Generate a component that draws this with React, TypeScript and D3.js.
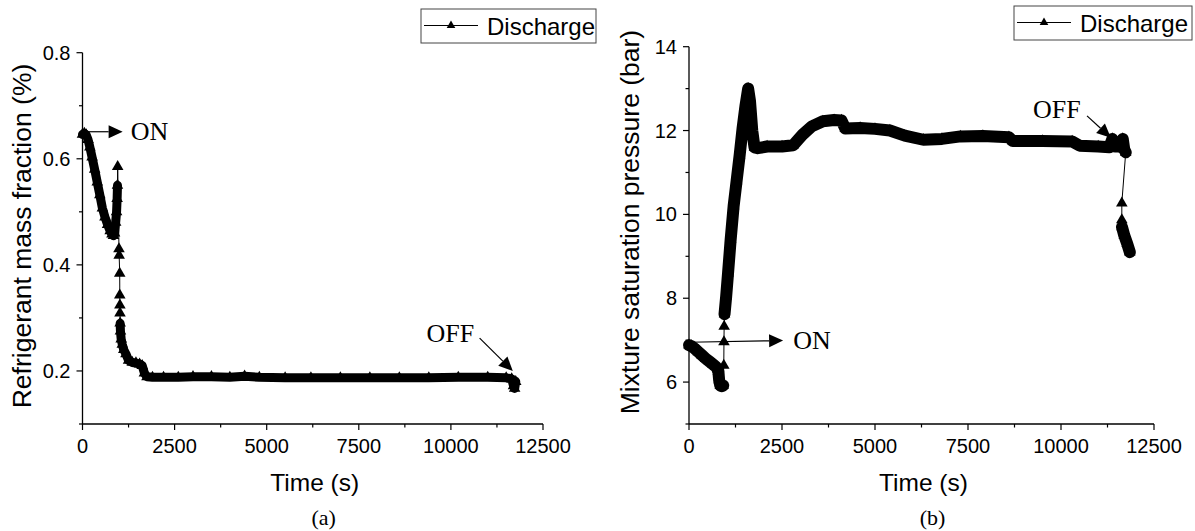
import * as d3 from "d3";

const W = 1195;
const H = 531;
const SANS = "'Liberation Sans', Arial, sans-serif";
const SERIF = "'Liberation Serif', 'Times New Roman', serif";

// ── shared axis ticks ─────────────────────────────────────
const timeTicks = [0, 2500, 5000, 7500, 10000, 12500];
const timeMinor = [1250, 3750, 6250, 8750, 11250];
const fracTicks = [0.2, 0.4, 0.6, 0.8];
const fracMinor = [0.1, 0.3, 0.5, 0.7];
const pressTicks = [6, 8, 10, 12, 14];
const pressMinor = [5, 7, 9, 11, 13];

// ── (a) refrigerant mass fraction, discharge ──────────────
const aStartTime = [0, 50, 100, 150, 200, 260, 330, 400, 470, 540, 610, 680, 750, 800, 840];
const aStartFrac = [0.646, 0.648, 0.645, 0.636, 0.622, 0.603, 0.58, 0.556, 0.532, 0.507, 0.49, 0.476, 0.464, 0.458, 0.455];
const aBlobTime = [870, 900, 925, 940, 950];
const aBlobFrac = [0.46, 0.48, 0.5, 0.525, 0.55];
const aDropTime = [955, 990, 995, 1010, 1012, 1015, 1018];
const aDropFrac = [0.585, 0.43, 0.418, 0.384, 0.343, 0.324, 0.309];
const aTailTime = [1022, 1030, 1050, 1080, 1120, 1180, 1250, 1350, 1450, 1550, 1620, 1680, 1750, 1900, 2200, 2600, 3000, 3500, 4000, 4400, 4800, 5500, 6200, 7000, 7800, 8600, 9400, 10200, 11000, 11500, 11650, 11700, 11730, 11760];
const aTailFrac = [0.29, 0.275, 0.26, 0.25, 0.24, 0.232, 0.22, 0.216, 0.215, 0.213, 0.21, 0.196, 0.189, 0.188, 0.188, 0.188, 0.189, 0.189, 0.188, 0.19, 0.188, 0.187, 0.187, 0.187, 0.187, 0.187, 0.187, 0.188, 0.188, 0.187, 0.185, 0.172, 0.167, 0.18];

// ── (b) mixture saturation pressure, discharge ────────────
const bStartTime = [0, 60, 150, 250, 350, 450, 550, 650, 720, 780];
const bStartPress = [6.88, 6.86, 6.8, 6.72, 6.64, 6.56, 6.49, 6.42, 6.37, 6.3];
const bBlobTime = [790, 810, 840, 880, 920];
const bBlobPress = [6.25, 6.05, 5.92, 5.9, 5.92];
const bJumpTime = [935, 940, 945];
const bJumpPress = [6.4, 6.96, 7.33];
const bMainTime = [955, 1000, 1050, 1120, 1200, 1280, 1360, 1440, 1520, 1590, 1640, 1700, 1760, 1850, 2100, 2500, 2800, 3050, 3300, 3600, 3900, 4100, 4200, 4600, 5000, 5400, 5800, 6300, 6800, 7300, 7900, 8600, 8700, 9500, 10300, 10500, 11000, 11300, 11380, 11450, 11600, 11660, 11700, 11740];
const bMainPress = [7.62, 8.05, 8.6, 9.4, 10.2, 10.8, 11.4, 12.05, 12.6, 13.0, 12.7, 12.0, 11.6, 11.58, 11.62, 11.62, 11.65, 11.9, 12.1, 12.22, 12.25, 12.24, 12.05, 12.06, 12.04, 12.0, 11.88, 11.78, 11.8, 11.86, 11.87, 11.84, 11.75, 11.75, 11.74, 11.64, 11.62, 11.6, 11.8, 11.62, 11.62, 11.8, 11.55, 11.48];
const bFallTime = [11635, 11635];
const bFallPress = [10.27, 9.87];
const bEndTime = [11640, 11700, 11780, 11850];
const bEndPress = [9.7, 9.5, 9.3, 9.1];

type Seg = { time: number[]; value: number[]; dense: boolean };

const segsA: Seg[] = [
  { time: aStartTime, value: aStartFrac, dense: true },
  { time: aBlobTime, value: aBlobFrac, dense: true },
  { time: aDropTime, value: aDropFrac, dense: false },
  { time: aTailTime, value: aTailFrac, dense: true },
];
const segsB: Seg[] = [
  { time: bStartTime, value: bStartPress, dense: true },
  { time: bBlobTime, value: bBlobPress, dense: true },
  { time: bJumpTime, value: bJumpPress, dense: false },
  { time: bMainTime, value: bMainPress, dense: true },
  { time: bFallTime, value: bFallPress, dense: false },
  { time: bEndTime, value: bEndPress, dense: true },
];

const tri = d3.symbol(d3.symbolTriangle, 58)();
const triSmall = d3.symbol(d3.symbolTriangle, 32)();

function Arrow({ x1, y1, x2, y2, len = 14, half = 6.5 }: any) {
  const a = Math.atan2(y2 - y1, x2 - x1);
  const bx = x2 - len * Math.cos(a);
  const by = y2 - len * Math.sin(a);
  const px = -Math.sin(a) * half;
  const py = Math.cos(a) * half;
  return (
    <g>
      <line x1={x1} y1={y1} x2={bx} y2={by} stroke="#000" strokeWidth={1.2} />
      <path d={`M${x2},${y2}L${bx + px},${by + py}L${bx - px},${by - py}Z`} fill="#000" />
    </g>
  );
}

function Panel(props: any) {
  const { segs, x, y, yTicks, yMinor, fmt, yTitle, titleX, titleY, caption, legend, bandW, notes } = props;
  const [x0, x1] = x.range();
  const [yb] = y.range();
  const line = d3.line<[number, number]>().x((d) => x(d[0])).y((d) => y(d[1]));
  const all: [number, number][] = segs.flatMap((s: Seg) => s.time.map((t, i) => [t, s.value[i]] as [number, number]));
  const midX = (x0 + x1) / 2;
  const yt = y(y.domain()[1]);

  return (
    <g>
      {/* axes */}
      <line x1={x0} y1={yt} x2={x0} y2={yb} stroke="#000" strokeWidth={1.3} />
      <line x1={x0} y1={yb} x2={x1} y2={yb} stroke="#000" strokeWidth={1.3} />
      {timeTicks.map((t: number) => (
        <g key={"xt" + t}>
          <line x1={x(t)} x2={x(t)} y1={yb} y2={yb + 6} stroke="#000" strokeWidth={1.2} />
          <text x={x(t)} y={yb + 29} textAnchor="middle" fontSize={20} fontFamily={SANS}>{t}</text>
        </g>
      ))}
      {timeMinor.map((t: number) => (
        <line key={"xm" + t} x1={x(t)} x2={x(t)} y1={yb} y2={yb + 3.5} stroke="#000" strokeWidth={1.2} />
      ))}
      {yTicks.map((v: number) => (
        <g key={"yt" + v}>
          <line x1={x0 - 6} x2={x0} y1={y(v)} y2={y(v)} stroke="#000" strokeWidth={1.2} />
          <text x={x0 - 12} y={y(v) + 7} textAnchor="end" fontSize={20} fontFamily={SANS}>{fmt(v)}</text>
        </g>
      ))}
      {yMinor.map((v: number) => (
        <line key={"ym" + v} x1={x0 - 3.5} x2={x0} y1={y(v)} y2={y(v)} stroke="#000" strokeWidth={1.2} />
      ))}
      <text x={midX + 2} y={yb + 67} textAnchor="middle" fontSize={24.5} fontFamily={SANS}>Time (s)</text>
      <text transform={`translate(${titleX},${titleY}) rotate(-90)`} textAnchor="middle" dominantBaseline="central" fontSize={26.5} fontFamily={SANS}>{yTitle}</text>
      <text x={midX + 11} y={yb + 101} textAnchor="middle" fontSize={22} fontFamily={SERIF}>{caption}</text>

      {/* series */}
      <path d={line(all) || ""} fill="none" stroke="#000" strokeWidth={1} />
      {segs.filter((s: Seg) => s.dense).map((s: Seg, k: number) => (
        <path key={"b" + k} d={line(s.time.map((t, i) => [t, s.value[i]] as [number, number])) || ""} fill="none" stroke="#000" strokeWidth={bandW} strokeLinejoin="round" strokeLinecap="round" />
      ))}
      {all.map((d, i) => (
        <path key={"m" + i} d={tri} transform={`translate(${x(d[0])},${y(d[1])})`} fill="#000" />
      ))}

      {/* annotations */}
      {notes.map((n: any, i: number) => (
        <g key={"n" + i}>
          <Arrow x1={x(n.from[0])} y1={y(n.from[1])} x2={x(n.to[0])} y2={y(n.to[1])} />
          <text x={x(n.at[0])} y={y(n.at[1])} fontSize={26} fontFamily={SERIF}>{n.label}</text>
        </g>
      ))}

      {/* legend */}
      <rect x={legend.x} y={legend.y} width={legend.w} height={34} fill="#fff" stroke="#444" strokeWidth={1} />
      <line x1={legend.x + 3} x2={legend.x + 57} y1={legend.y + 16.5} y2={legend.y + 16.5} stroke="#000" strokeWidth={1} />
      <path d={triSmall} transform={`translate(${legend.x + 30},${legend.y + 16.5})`} fill="#000" />
      <text x={legend.x + 66} y={legend.y + 26} fontSize={24} fontFamily={SANS}>Discharge</text>
    </g>
  );
}

export default function App() {
  const xA = d3.scaleLinear().domain([0, 12500]).range([82.5, 543]);
  const yA = d3.scaleLinear().domain([0.1, 0.8]).range([424, 52.7]);
  const xB = d3.scaleLinear().domain([0, 12500]).range([689, 1154]);
  const yB = d3.scaleLinear().domain([5, 14]).range([424, 46.7]);

  return (
    <svg width={W} height={H} viewBox={`0 0 ${W} ${H}`} style={{ position: "absolute", left: 0, top: 0, background: "#fff" }}>
      <Panel
        segs={segsA} x={xA} y={yA} yTicks={fracTicks} yMinor={fracMinor}
        fmt={(v: number) => v.toFixed(1)} yTitle="Refrigerant mass fraction (%)" titleX={22} titleY={236}
        caption="(a)" legend={{ x: 421, y: 9, w: 175 }} bandW={9}
        notes={[
          { from: [150, 0.651], to: [1090, 0.651], at: [1310, 0.636], label: "ON" },
          { from: [10780, 0.262], to: [11680, 0.2], at: [9340, 0.254], label: "OFF" },
        ]}
      />
      <Panel
        segs={segsB} x={xB} y={yB} yTicks={pressTicks} yMinor={pressMinor}
        fmt={(v: number) => String(v)} yTitle="Mixture saturation pressure (bar)" titleX={630} titleY={222}
        caption="(b)" legend={{ x: 1014, y: 6, w: 178 }} bandW={12}
        notes={[
          { from: [0, 6.95], to: [2530, 6.99], at: [2800, 6.78], label: "ON" },
          { from: [10700, 12.35], to: [11340, 11.83], at: [9250, 12.3], label: "OFF" },
        ]}
      />
    </svg>
  );
}
